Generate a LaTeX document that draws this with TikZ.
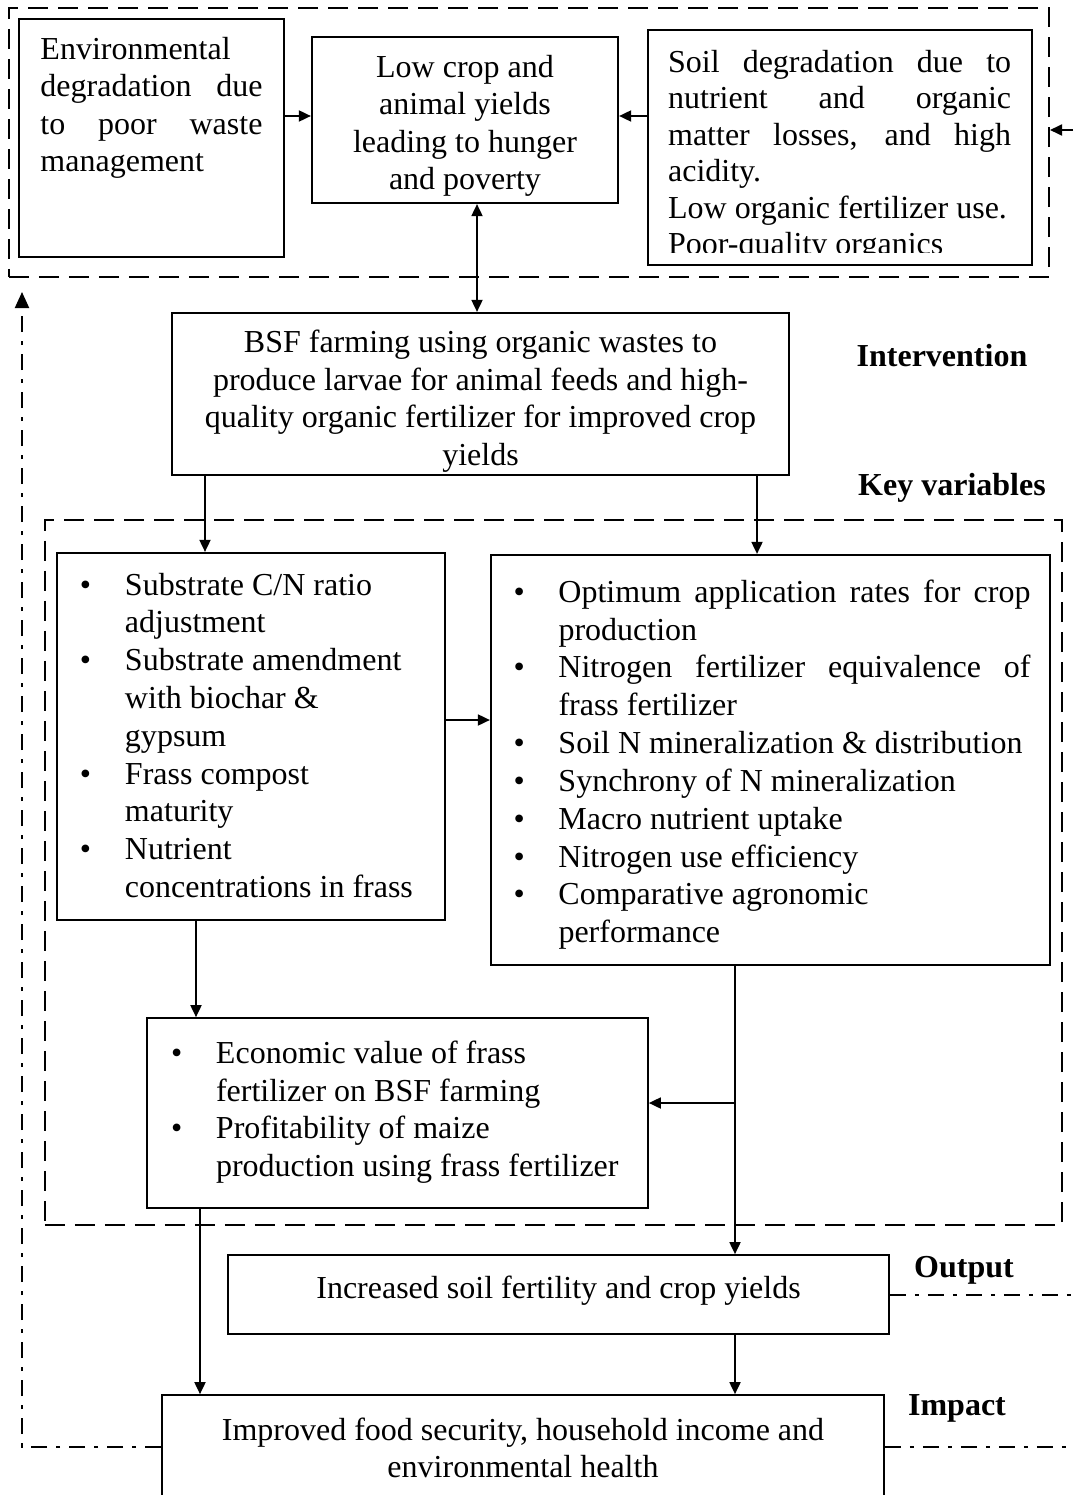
\documentclass[tikz,border=0pt]{standalone}
\usepackage{fontspec}
\setmainfont{Liberation Serif}
\usetikzlibrary{arrows.meta,calc}
\newcommand\bul[1]{\par\noindent\hangindent=48bp\hangafter=1\makebox[48bp][l]{\hspace{3bp}•}\ignorespaces#1\par}
\tikzset{
  boxthick/.style={draw, line width=2.2bp, inner sep=0pt},
  boxthin/.style={draw, line width=1.7bp, inner sep=0pt},
  txt/.style={font=\fontsize{32bp}{37.5bp}\selectfont, inner sep=0pt},
  lst/.style={font=\fontsize{32bp}{37.8bp}\selectfont, inner sep=0pt, align=justify},
  arr/.style={line width=1.8bp, -{Triangle[length=12bp,width=11bp]}},
  darr/.style={line width=1.8bp, {Triangle[length=12bp,width=11bp]}-{Triangle[length=12bp,width=11bp]}},
  dashbox/.style={draw, line width=2bp, dash pattern=on 20bp off 10bp, inner sep=0pt},
  dashdot/.style={line width=2bp, dash pattern=on 16bp off 9bp on 4bp off 9bp},
  lbl/.style={font=\fontsize{32bp}{37.5bp}\selectfont\bfseries, inner sep=0pt},
}
\begin{document}
\begin{tikzpicture}[x=1bp,y=-1bp]
\useasboundingbox (0,0) rectangle (1073,1495);

% top problem area
\node[dashbox, minimum width=1040bp, minimum height=269bp] (topdash) at (529,142.5) {};
\node[boxthick, minimum width=265bp, minimum height=238bp, txt] (env) at (151.5,138)
  {\parbox[t][210bp][t]{222bp}{\strut Environmental\\ degradation due\linebreak to poor waste\linebreak management}};
\node[boxthick, minimum width=306bp, minimum height=166bp] (low) at (465,120) {};
\node[txt, align=center] (lowtxt) at (465,126) {Low crop and\\animal yields\\leading to hunger\\and poverty};
\node[boxthick, minimum width=384bp, minimum height=235bp] (soil) at (840,147.5) {};
\begin{scope}
  \clip ([yshift=-2bp]soil.north west) rectangle ([yshift=14bp]soil.south east);
  \node[font=\fontsize{32bp}{36.5bp}\selectfont, anchor=north west, inner sep=0pt] (soiltxt)
    at ([xshift=21bp,yshift=-17.5bp]soil.north west)
    {\parbox[t]{343bp}{\strut Soil degradation due to\linebreak nutrient and organic\linebreak matter losses, and high\linebreak acidity.\\ Low organic fertilizer use.\\ Poor-quality organics}};
\end{scope}

% intervention
\node[boxthick, minimum width=617bp, minimum height=162bp] (bsf) at (480.5,394) {};
\node[txt, align=center] (bsftxt) at (480.5,401)
  {BSF farming using organic wastes to\\produce larvae for animal feeds and high-\\quality organic fertilizer for improved crop\\yields};

% key variables
\node[dashbox, minimum width=1017bp, minimum height=705bp] (kv) at (553.5,872.5) {};
\node[boxthick, minimum width=388bp, minimum height=367bp] (sub) at (251,736.5) {};
\node[lst, text width=348bp] (subtxt) at (251,727.5)
  {\bul{Substrate C/N ratio\newline adjustment}\bul{Substrate amendment\newline with biochar \&\newline gypsum}\bul{Frass compost\newline maturity}\bul{Nutrient\newline concentrations in frass}};
\node[boxthick, minimum width=559bp, minimum height=410bp] (opt) at (770.5,760) {};
\node[lst, text width=520bp] (opttxt) at (770.5,757)
  {\bul{Optimum application rates for crop\linebreak production}\bul{Nitrogen fertilizer equivalence of\linebreak frass fertilizer}\bul{Soil N mineralization \& distribution}\bul{Synchrony of N mineralization}\bul{Macro nutrient uptake}\bul{Nitrogen use efficiency}\bul{Comparative agronomic\newline performance}};
\node[boxthin, minimum width=501bp, minimum height=190bp] (econ) at (397.5,1113) {};
\node[lst, text width=459bp] (econtxt) at (397.5,1104.5)
  {\bul{Economic value of frass\newline fertilizer on BSF farming}\bul{Profitability of maize\newline production using frass fertilizer}};

% output and impact
\node[boxthin, minimum width=661bp, minimum height=79bp] (out) at (558.5,1294.5) {};
\node[txt] (outtxt) at (558.5,1290.5) {Increased soil fertility and crop yields};
\node[boxthin, minimum width=722bp, minimum height=104bp] (imp) at (523,1447) {};
\node[txt, align=center] (imptxt) at (523,1448)
  {Improved food security, household income and\\environmental health};

% labels
\node[lbl] (lint) at (942,356) {Intervention};
\node[lbl] (lkey) at (952,488) {Key variables};
\node[lbl] (lout) at (964,1270) {Output};
\node[lbl] (limp) at (957,1408) {Impact};

% connectors
\draw[arr] ([yshift=4bp]low.west -| env.east) -- ([yshift=4bp]low.west);
\draw[arr] ([yshift=4bp]low.east -| soil.west) -- ([yshift=4bp]low.east);
\draw[darr] ([xshift=12bp]low.south) -- ([xshift=12bp]low.south |- bsf.north);
\coordinate (fbin) at (1073,130);
\draw[arr] (fbin) -- (fbin -| topdash.east);
\draw[arr] ([xshift=-275.5bp]bsf.south) -- ([xshift=-275.5bp]bsf.south |- sub.north);
\draw[arr] ([xshift=276.5bp]bsf.south) -- ([xshift=276.5bp]bsf.south |- opt.north);
\draw[arr] ([yshift=16.5bp]sub.east) -- ([yshift=16.5bp]sub.east -| opt.west);
\draw[arr] ([xshift=-55bp]sub.south) -- ([xshift=-55bp]sub.south |- econ.north);
\coordinate (brx) at ($(opt.south)+(-35.5,0)$);
\coordinate (br) at (brx |- econ.east);
\draw[arr] (brx) -- (brx |- out.north);
\draw[arr] ([yshift=10bp]br) -- ([yshift=10bp]econ.east);
\draw[arr] ([xshift=176.5bp]out.south) -- ([xshift=176.5bp]out.south |- imp.north);
\draw[arr] ([xshift=-197.5bp]econ.south) -- ([xshift=-197.5bp]econ.south |- imp.north);
\draw[dashdot] (out.east) -- (out.east -| fbin);
\draw[dashdot] (imp.east) -- (imp.east -| fbin);
\coordinate (fbL) at (22,292);
\draw[dashdot, -{Triangle[length=16bp,width=14bp]}] (imp.west) -- (imp.west -| fbL) -- (fbL);
\end{tikzpicture}
\end{document}
